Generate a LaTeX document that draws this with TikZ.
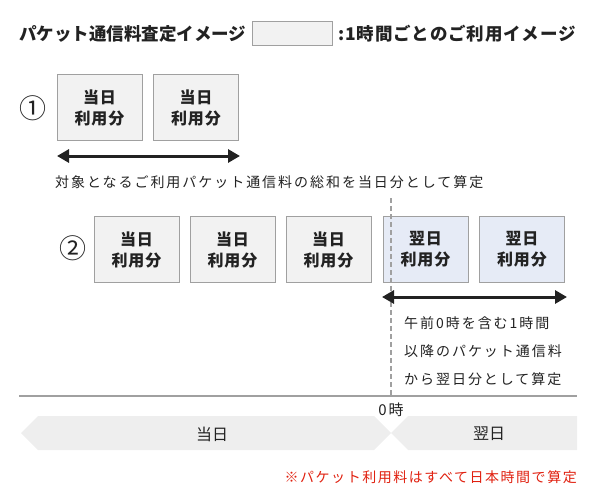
\documentclass[tikz,border=0pt]{standalone}
\usepackage{fontspec}
\setmainfont{Noto Sans CJK JP}
\newfontfamily\jpsp[LetterSpace=14]{Noto Sans CJK JP}
\newfontfamily\jpnote[LetterSpace=11]{Noto Sans CJK JP}
\newfontfamily\jpbsp[LetterSpace=6]{Noto Sans CJK JP}
\newfontfamily\jptitle[LetterSpace=5]{Noto Sans CJK JP}
\usetikzlibrary{arrows.meta}
\definecolor{boxgray}{HTML}{F2F2F2}
\definecolor{boxblue}{HTML}{E6EBF6}
\definecolor{edgegray}{HTML}{A0A0A0}
\definecolor{bandgray}{HTML}{EEEEEE}
\definecolor{notered}{HTML}{E0200F}
\definecolor{ink}{HTML}{222222}
\tikzset{
  hourbox/.style={draw=edgegray, line width=1pt, fill=boxgray, minimum width=85pt, minimum height=66pt, inner sep=0pt,
    font=\jpbsp\bfseries\fontsize{16}{21}\selectfont, align=center, text=ink},
  nextbox/.style={hourbox, fill=boxblue, draw=edgegray},
  bothway/.style={{Triangle[length=12pt,width=13pt]}-{Triangle[length=12pt,width=13pt]}, line width=3pt, draw=ink},
  smalltxt/.style={font=\jpsp\fontsize{14}{28.3}\selectfont, text=ink, inner sep=0pt},
  circnum/.style={font=\fontsize{27}{27}\selectfont, text=ink, inner sep=0pt},
  bandtxt/.style={font=\fontsize{16}{16}\selectfont, text=ink, inner sep=0pt},
}
\begin{document}
\begin{tikzpicture}[x=1pt,y=-1pt]
\useasboundingbox (0,0) rectangle (596,500);
% title
\node[anchor=west, inner sep=0pt, font=\bfseries\fontsize{17.5}{17.5}\selectfont, text=ink] (title) at (19,34) {パケット通信料査定イメージ};
\node[draw=edgegray, line width=1pt, fill=boxgray, minimum width=80pt, minimum height=24pt, inner sep=0pt] (legend) at (292,34) {};
\node[anchor=west, inner sep=0pt, font=\jptitle\bfseries\fontsize{17.5}{17.5}\selectfont, text=ink] (legtxt) at (338,34) {:1時間ごとのご利用イメージ};
% row 1
\node[circnum] (n1) at (33,108) {①};
\node[hourbox] (a1) at (99.5,107.5) {当日\\利用分};
\node[hourbox] (a2) at (196,107.5) {当日\\利用分};
\coordinate (a1s) at (57,156);
\coordinate (a2e) at (240,156);
\draw[bothway] (a1s) -- (a2e);
\node[smalltxt, anchor=west] (t1) at (55,182) {対象となるご利用パケット通信料の総和を当日分として算定};
% row 2
\node[circnum] (n2) at (73,248) {②};
\node[hourbox] (b1) at (136.5,249.5) {当日\\利用分};
\node[hourbox] (b2) at (232.5,249.5) {当日\\利用分};
\node[hourbox] (b3) at (328.5,249.5) {当日\\利用分};
\node[nextbox] (b4) at (425.5,249.5) {翌日\\利用分};
\node[nextbox] (b5) at (522,249.5) {翌日\\利用分};
% midnight dashed line
\coordinate (mtop) at (391,198);
\coordinate (mbot) at (391,396);
\draw[edgegray, line width=1.5pt, dash pattern=on 5pt off 3pt] (mtop) -- (mbot);
\coordinate (b4s) at (382,297);
\coordinate (b5e) at (567,297);
\draw[bothway] (b4s) -- (b5e);
\node[smalltxt, anchor=north west, align=left] (t2) at (404,316) {午前0時を含む1時間\\以降のパケット通信料\\から翌日分として算定};
% timeline
\coordinate (tl) at (19,396);
\coordinate (tr) at (577,396);
\draw[edgegray, line width=2pt] (tl) -- (tr);
\node[font=\jpsp\fontsize{15}{15}\selectfont, text=ink, inner sep=0pt] (zero) at (391,410) {0時};
\fill[bandgray] (21,433) -- (38,416) -- (374,416) -- (391,433) -- (374,450) -- (38,450) -- cycle;
\fill[bandgray] (391,433) -- (408,416) -- (577,416) -- (577,450) -- (408,450) -- cycle;
\node[bandtxt] (today) at (212,434) {当日};
\node[bandtxt] (nextday) at (489,434) {翌日};
% note
\node[anchor=east, inner sep=0pt, font=\jpnote\fontsize{14}{14}\selectfont, text=notered] (note) at (577,477) {※パケット利用料はすべて日本時間で算定};
\end{tikzpicture}
\end{document}
